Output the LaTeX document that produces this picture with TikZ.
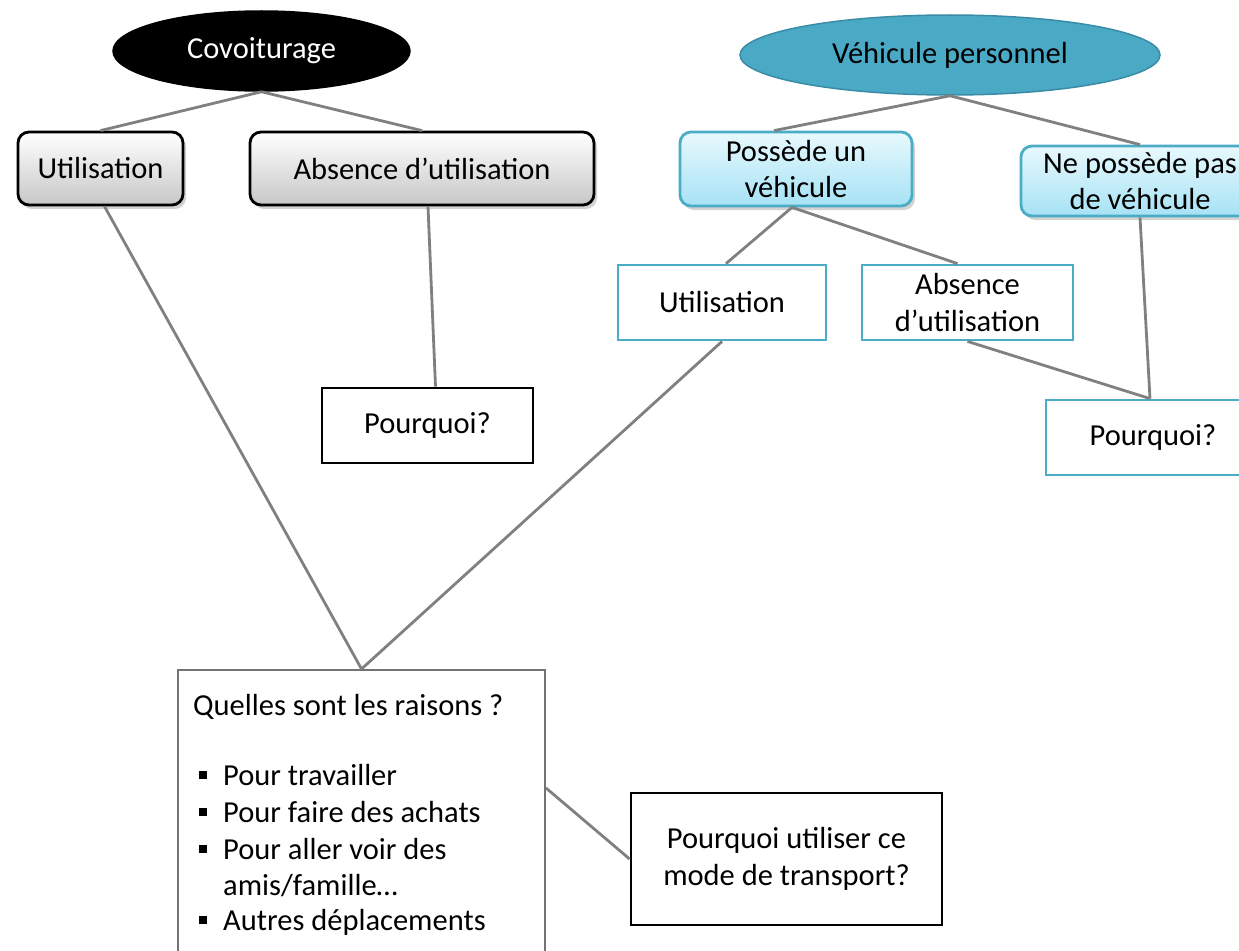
\documentclass[tikz,border=0pt]{standalone}
\usepackage{fontspec}
\setmainfont{Carlito}
\usetikzlibrary{shapes.geometric,shadows,calc}
\definecolor{tealline}{HTML}{4BACC6}
\definecolor{tealfill}{HTML}{4AA9C5}
\definecolor{tealdark}{HTML}{3A8CA6}
\definecolor{linkgray}{HTML}{808080}
\definecolor{skytop}{HTML}{E8F9FD}
\definecolor{skybot}{HTML}{A6E2F5}
\newcommand{\bul}{\makebox[24pt][l]{\rule[6pt]{8pt}{8pt}}}
\tikzset{
  every node/.style={font=\fontsize{30.5}{36.5}\selectfont, inner sep=0pt, align=center},
  link/.style={draw=linkgray, line width=2.8pt},
  topic/.style={ellipse, line width=1.5pt},
  graybox/.style={rectangle, rounded corners=11pt, draw=black, line width=2.8pt,
    top color=white, bottom color=black!22,
    drop shadow={shadow xshift=3pt, shadow yshift=-4pt, opacity=0.35}},
  skybox/.style={rectangle, rounded corners=11pt, draw=tealline, line width=2.8pt,
    top color=skytop, bottom color=skybot,
    drop shadow={shadow xshift=3pt, shadow yshift=-4pt, opacity=0.35}},
  tealbox/.style={rectangle, draw=tealline, line width=2.8pt, fill=white},
  blackbox/.style={rectangle, draw=black, line width=2.8pt, fill=white},
  listbox/.style={rectangle, draw=black!55, line width=2pt, fill=white},
  listline/.style={anchor=base west},
}
\begin{document}
\begin{tikzpicture}[x=1pt,y=-1pt]
\useasboundingbox (0,0) rectangle (1239,950);
\clip (0,0) rectangle (1239,950);

% top-level topics
\node[topic, fill=black, draw=black, text=white, minimum width=297pt, minimum height=80pt] (cov) at (261.5,51) {Covoiturage};
\node[topic, fill=tealfill, draw=tealdark, minimum width=420pt, minimum height=80pt] (veh) at (950,55) {Véhicule personnel};

% carpooling branch
\node[graybox, minimum width=165pt, minimum height=73pt] (gU) at (100.5,168.5) {Utilisation};
\node[graybox, minimum width=344pt, minimum height=73pt] (gA) at (422,168.5) {Absence d’utilisation};
\node[blackbox, minimum width=211pt, minimum height=75pt] (kP) at (427.5,425.5) {Pourquoi?};

% personal vehicle branch
\node[skybox, minimum width=232pt, minimum height=74pt] (bP) at (796,169) {Possède un\\véhicule};
\node[skybox, minimum width=238pt, minimum height=70pt] (bN) at (1140,181) {Ne possède pas\\de véhicule};
\node[tealbox, minimum width=208pt, minimum height=75pt] (tU) at (722,302.5) {Utilisation};
\node[tealbox, minimum width=211pt, minimum height=75pt] (tA) at (967.5,302.5) {Absence\\d’utilisation};
\node[tealbox, minimum width=214pt, minimum height=75pt] (tP) at (1153,437.5) {Pourquoi?};

% reasons and question
\node[listbox, minimum width=367pt, minimum height=300pt] (Q) at (361.5,820) {};
\node[listline] (qtitle) at (193,715) {Quelles sont les raisons ?};
\node[listline] (q1) at (199,785) {\bul Pour travailler};
\node[listline] (q2) at (199,822) {\bul Pour faire des achats};
\node[listline] (q3) at (199,859) {\bul Pour aller voir des};
\node[listline] (q4) at (223,895) {amis/famille…};
\node[listline] (q5) at (199,930) {\bul Autres déplacements};
\node[blackbox, minimum width=311pt, minimum height=132pt] (M) at (786.5,859) {Pourquoi utiliser ce\\mode de transport?};

% connectors
\draw[link] (cov.south) -- (gU.north);
\draw[link] (cov.south) -- (gA.north);
\draw[link] (veh.south) -- ([xshift=-22pt]bP.north);
\draw[link] (veh.south) -- (bN.north);
\draw[link] ([xshift=-4pt]bP.south) -- ([xshift=4pt]tU.north);
\draw[link] ([xshift=-4pt]bP.south) -- ([xshift=-10pt]tA.north);
\draw[link] (tA.south) -- ([xshift=-3pt]tP.north);
\draw[link] (bN.south) -- ([xshift=-3pt]tP.north);
\draw[link] ([xshift=6pt]gA.south) -- ([xshift=8pt]kP.north);
\draw[link] ([xshift=4pt]gU.south) -- (Q.north);
\draw[link] (tU.south) -- (Q.north);
\draw[link] ([yshift=32pt]Q.east) -- (M.west);
\end{tikzpicture}
\end{document}
